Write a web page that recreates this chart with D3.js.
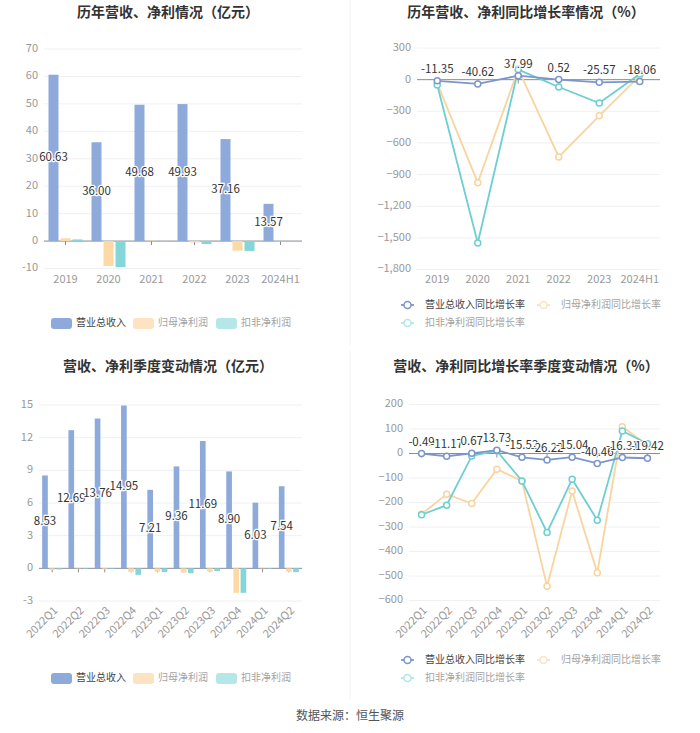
<!DOCTYPE html>
<html><head><meta charset="utf-8">
<script src="https://cdn.jsdelivr.net/npm/d3@7"></script>
<style>
body{margin:0;background:#fff;}
svg{display:block;font-family:"Noto Sans CJK SC","Noto Sans",sans-serif;}
</style></head>
<body><svg id="c" width="700" height="733"></svg>
<script>
// ---- data ----
const years = ["2019","2020","2021","2022","2023","2024H1"];
const yearRevenue = [60.63, 36.00, 49.68, 49.93, 37.16, 13.57];
const yearNetProfit = [1.0, -9.1, 0.15, -0.5, -3.5, -0.1];
const yearDeductedProfit = [0.6, -9.5, -0.3, -1.1, -3.6, -0.3];
const yearRevenueGrowth = [-11.35, -40.62, 37.99, 0.52, -25.57, -18.06];
const yearNetProfitGrowth = [-35, -977, 100, -733, -343, 35];
const yearDeductedGrowth = [-50, -1549, 95, -70, -222, 54];
const yearBarTicks = [-10, 0, 10, 20, 30, 40, 50, 60, 70];
const yearGrowthTicks = [-1800, -1500, -1200, -900, -600, -300, 0, 300];

const quarters = ["2022Q1","2022Q2","2022Q3","2022Q4","2023Q1","2023Q2","2023Q3","2023Q4","2024Q1","2024Q2"];
const qRevenue = [8.53, 12.69, 13.76, 14.95, 7.21, 9.36, 11.69, 8.90, 6.03, 7.54];
const qNetProfit = [-0.15, 0.03, -0.1, -0.35, -0.3, -0.4, -0.3, -2.25, 0.03, -0.3];
const qDeductedProfit = [-0.1, -0.05, -0.05, -0.6, -0.35, -0.45, -0.25, -2.25, -0.05, -0.35];
const qRevenueGrowth = [-0.49, -11.17, 0.67, 13.73, -15.52, -26.22, -15.04, -40.46, -16.31, -19.42];
const qNetProfitGrowth = [-248, -166, -204, -64, -112, -542, -153, -487, 109, 34];
const qDeductedGrowth = [-250, -211, -10, 11, -112, -322, -105, -272, 92, 40];
const qBarTicks = [-3, 0, 3, 6, 9, 12, 15];
const qGrowthTicks = [-600, -500, -400, -300, -200, -100, 0, 100, 200];

const barNames = ["营业总收入", "归母净利润", "扣非净利润"];
const lineNames = ["营业总收入同比增长率", "归母净利润同比增长率", "扣非净利润同比增长率"];
const titles = ["历年营收、净利情况（亿元）", "历年营收、净利同比增长率情况（%）", "营收、净利季度变动情况（亿元）", "营收、净利同比增长率季度变动情况（%）"];
const source = "数据来源：恒生聚源";

const barColors = ["#8eaadb", "#fdd9a6", "#84d6d8"];
const legendBarColors = ["#8eaadb", "#fde3c2", "#b5e7e9"];
const lineColors = ["#7c96ca", "#f9d49e", "#6dcfd1"];
const legendLineColors = ["#7c96ca", "#fbe3c4", "#b3e6e8"];
const legendTextColors = ["#444", "#a3a3a3", "#a3a3a3"];

const svg = d3.select("#c");
const fmt = d3.format(",");

// dividers
svg.append("line").attr("x1",350).attr("x2",350).attr("y1",0).attr("y2",345).attr("stroke","#f2f2f2");
svg.append("line").attr("x1",350).attr("x2",350).attr("y1",350).attr("y2",700).attr("stroke","#f2f2f2");

// titles
[[168,13],[526,13],[168,367],[526,367]].forEach((p,i)=>{
  svg.append("text").attr("x",p[0]).attr("y",p[1]).attr("text-anchor","middle")
    .attr("dominant-baseline","middle").attr("font-size",14).attr("font-weight","bold")
    .attr("fill","#333").text(titles[i]);
});

function yAxis(g, y, ticks, x0, x1, f){
  ticks.forEach(t=>{
    g.append("line").attr("x1",x0).attr("x2",x1).attr("y1",y(t)).attr("y2",y(t)).attr("stroke","#eef0f3");
    g.append("text").attr("x",x0-6).attr("y",y(t)).attr("text-anchor","end").attr("dominant-baseline","middle")
      .attr("font-size",11).attr("fill","#999").text(f?f(t):t);
  });
}
function xAxis(g, x, cats, y0, x0, x1, labelY, rotate){
  g.append("line").attr("x1",x0).attr("x2",x1).attr("y1",y0).attr("y2",y0).attr("stroke","#8a8f99");
  cats.forEach(c=>{
    const cx = x(c)+x.bandwidth()/2;
    g.append("line").attr("x1",cx).attr("x2",cx).attr("y1",y0).attr("y2",y0+4).attr("stroke","#8a8f99");
    if(rotate){
      g.append("text").attr("transform",`translate(${cx+4},${labelY}) rotate(-45)`).attr("text-anchor","end")
        .attr("dominant-baseline","middle").attr("font-size",11).attr("fill","#999").text(c);
    } else {
      g.append("text").attr("x",cx).attr("y",labelY).attr("text-anchor","middle").attr("dominant-baseline","middle")
        .attr("font-size",11).attr("fill","#999").text(c);
    }
  });
}

function barChart(opt){
  const g = svg.append("g");
  const x = d3.scaleBand().domain(opt.cats).range([opt.x0, opt.x1]);
  const y = d3.scaleLinear().domain([opt.ticks[0], opt.ticks[opt.ticks.length-1]]).range([opt.yb, opt.yt]);
  yAxis(g, y, opt.ticks, opt.x0, opt.x1);
  const inner = d3.scaleBand().domain([0,1,2]).range([-opt.group/2, opt.group/2]).paddingInner(opt.pad);
  const series = [opt.rev, opt.np, opt.dp];
  xAxis(g, x, opt.cats, y(0), opt.x0, opt.x1, opt.labelY, opt.rotate);
  series.forEach((vals,si)=>{
    g.selectAll(null).data(vals).enter().append("rect")
      .attr("x",(d,i)=>x(opt.cats[i])+x.bandwidth()/2+inner(si))
      .attr("width",inner.bandwidth())
      .attr("y",d=>Math.min(y(d),y(0)))
      .attr("height",d=>Math.abs(y(d)-y(0)))
      .attr("fill",barColors[si]);
  });
  // labels
  g.selectAll(null).data(opt.rev).enter().append("text")
    .attr("x",(d,i)=>x(opt.cats[i])+x.bandwidth()/2+inner(0)+inner.bandwidth()/2)
    .attr("y",d=>(y(d)+y(0))/2)
    .attr("text-anchor","middle").attr("dominant-baseline","middle")
    .attr("font-size",11.5).attr("fill","#333")
    .attr("stroke","#fff").attr("stroke-width",2.5).attr("paint-order","stroke")
    .text(d=>d.toFixed(2));
  // legend
  const lx = [51, 133, 216];
  barNames.forEach((n,i)=>{
    svg.append("rect").attr("x",lx[i]).attr("y",opt.legY-5).attr("width",21).attr("height",11).attr("rx",3)
      .attr("fill",legendBarColors[i]);
    svg.append("text").attr("x",lx[i]+25).attr("y",opt.legY).attr("dominant-baseline","middle")
      .attr("font-size",10).attr("fill",legendTextColors[i]).text(n);
  });
}

function lineChart(opt){
  const g = svg.append("g");
  const x = d3.scaleBand().domain(opt.cats).range([opt.x0, opt.x1]);
  const y = d3.scaleLinear().domain([opt.ticks[0], opt.ticks[opt.ticks.length-1]]).range([opt.yb, opt.yt]);
  yAxis(g, y, opt.ticks, opt.x0, opt.x1, fmt);
  xAxis(g, x, opt.cats, y(0), opt.x0, opt.x1, opt.labelY, opt.rotate);
  const cx = (i)=>x(opt.cats[i])+x.bandwidth()/2;
  const series = [opt.rev, opt.np, opt.dp];
  const order = [1,2,0];
  order.forEach(si=>{
    const vals = series[si];
    const line = d3.line().x((d,i)=>cx(i)).y(d=>y(d));
    g.append("path").attr("d",line(vals)).attr("fill","none").attr("stroke",lineColors[si]).attr("stroke-width",1.8);
    g.selectAll(null).data(vals).enter().append("circle")
      .attr("cx",(d,i)=>cx(i)).attr("cy",d=>y(d)).attr("r",3)
      .attr("fill","#fff").attr("stroke",lineColors[si]).attr("stroke-width",1.5);
  });
  g.selectAll(null).data(opt.rev).enter().append("text")
    .attr("x",(d,i)=>cx(i)).attr("y",d=>y(d)-11)
    .attr("text-anchor","middle").attr("dominant-baseline","middle")
    .attr("font-size",11.5).attr("fill","#333")
    .attr("stroke","#fff").attr("stroke-width",2).attr("paint-order","stroke")
    .text(d=>d.toFixed(2));
  // legend
  const pos = [[401,opt.legY],[537,opt.legY],[401,opt.legY+18]];
  lineNames.forEach((n,i)=>{
    const p = pos[i];
    svg.append("line").attr("x1",p[0]).attr("x2",p[0]+13).attr("y1",p[1]).attr("y2",p[1])
      .attr("stroke",legendLineColors[i]).attr("stroke-width",1.8);
    svg.append("circle").attr("cx",p[0]+6.5).attr("cy",p[1]).attr("r",3.5)
      .attr("fill","#fff").attr("stroke",legendLineColors[i]).attr("stroke-width",1.5);
    svg.append("text").attr("x",p[0]+24).attr("y",p[1]).attr("dominant-baseline","middle")
      .attr("font-size",10).attr("fill",legendTextColors[i]).text(n);
  });
}

barChart({cats:years, rev:yearRevenue, np:yearNetProfit, dp:yearDeductedProfit, ticks:yearBarTicks,
  x0:44, x1:302, yt:49, yb:268.5, group:34, pad:0.167, labelY:280, rotate:false, legY:323});
lineChart({cats:years, rev:yearRevenueGrowth, np:yearNetProfitGrowth, dp:yearDeductedGrowth, ticks:yearGrowthTicks,
  x0:417, x1:660, yt:48, yb:269.5, labelY:280, rotate:false, legY:305});
barChart({cats:quarters, rev:qRevenue, np:qNetProfit, dp:qDeductedProfit, ticks:qBarTicks,
  x0:39, x1:302, yt:405, yb:601, group:20, pad:0.21, labelY:609, rotate:true, legY:678});
lineChart({cats:quarters, rev:qRevenueGrowth, np:qNetProfitGrowth, dp:qDeductedGrowth, ticks:qGrowthTicks,
  x0:409, x1:660, yt:404.5, yb:600.5, labelY:609, rotate:true, legY:660});

svg.append("text").attr("x",350).attr("y",717).attr("text-anchor","middle").attr("dominant-baseline","middle")
  .attr("font-size",12).attr("fill","#555").text(source);
</script></body></html>
